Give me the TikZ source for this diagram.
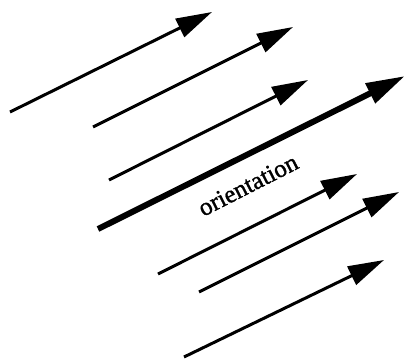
\documentclass[tikz,border=0pt]{standalone}
\usepackage{fontspec}
\setmainfont{Liberation Serif}
\newfontfamily\lblfont[FakeBold=1.2]{Liberation Serif}
\usetikzlibrary{arrows.meta}
\begin{document}
\begin{tikzpicture}[x=1pt,y=-1pt,
  vec/.style={line width=3pt,-{Triangle[length=36pt,width=20pt]}},
  mainvec/.style={line width=6pt,-{Triangle[length=39pt,width=21pt]}}]
\useasboundingbox (0,0) rectangle (406,361);
\coordinate (s1) at (10,112);  \coordinate (e1) at (212,12);
\coordinate (s2) at (93,127);  \coordinate (e2) at (293,27);
\coordinate (s3) at (109,180); \coordinate (e3) at (308,80);
\coordinate (s4) at (98,229);  \coordinate (e4) at (405,76);
\coordinate (s5) at (158,274); \coordinate (e5) at (357,174);
\coordinate (s6) at (199,292); \coordinate (e6) at (399,192);
\coordinate (s7) at (184,357); \coordinate (e7) at (384,260);
\draw[vec] (s1) -- (e1);
\draw[vec] (s2) -- (e2);
\draw[vec] (s3) -- (e3);
\draw[mainvec] (s4) -- (e4);
\draw[vec] (s5) -- (e5);
\draw[vec] (s6) -- (e6);
\draw[vec] (s7) -- (e7);
\node[rotate=27,font=\lblfont\fontsize{25}{30}\selectfont,inner sep=0pt] (lbl) at (248,185) {orientation};
\end{tikzpicture}
\end{document}
